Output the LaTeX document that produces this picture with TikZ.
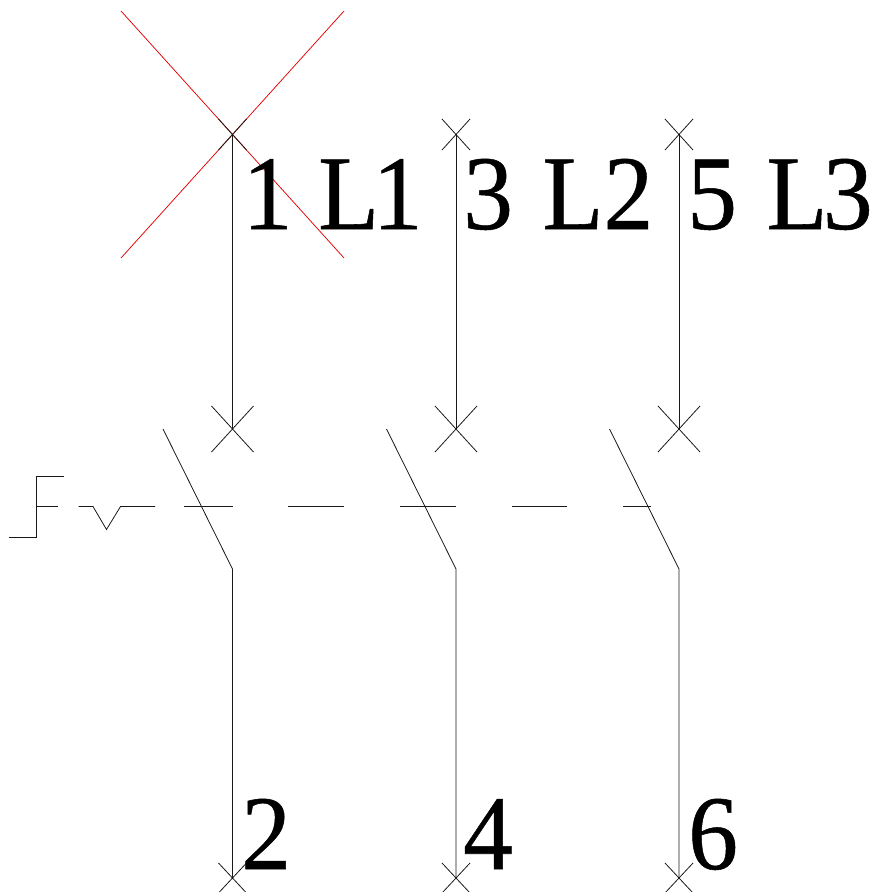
\documentclass[tikz,border=0pt]{standalone}
\usepackage{fontspec}
\setmainfont[FakeBold=0.5,AutoFakeBold=0.5]{Liberation Serif}
\newcommand{\lbl}[1]{\scalebox{.94}[1]{\bfseries #1}}
\tikzset{
  wire/.style={line width=0.8pt,black!90},
  redline/.style={line width=0.75pt,red!90!black},
  lab/.style={inner sep=0pt,font=\fontsize{106}{106}\selectfont,anchor=base west},
}
\begin{document}
\begin{tikzpicture}[x=1pt,y=-1pt]
\useasboundingbox (0,0) rectangle (879,892);
\draw[redline] (121,11) -- (344,258) (344,11) -- (121,258);
\foreach \x/\n in {232.5/a,456/b,679/c}{
  \coordinate (top\n) at (\x,134.5);
  \coordinate (bot\n) at (\x,429);
  \coordinate (knee\n) at (\x,569);
  \coordinate (end\n) at (\x,878);
  \draw[wire] (top\n) -- (bot\n);
  \draw[wire] (\x-21,406) -- (\x+21,452) (\x+21,406) -- (\x-21,452);
  \draw[wire] (\x-69.5,429) -- (knee\n) -- (end\n);
  \draw[wire] (\x-14,863) -- (\x+14,893) (\x+14,863) -- (\x-14,893);
  \draw[wire] (\x-14,119) -- (\x+14,150) (\x+14,119) -- (\x-14,150);
}
\draw[wire] (9,537) -- (36.5,537) -- (36.5,476) -- (64,476);
\draw[wire] (36.5,506.5) -- (58,506.5);
\draw[wire] (78.5,506.5) -- (93,506.5) -- (106.5,529.5) -- (120.5,506.5) -- (155,506.5);
\draw[wire] (183.5,506.5) -- (232.5,506.5) (288,506.5) -- (344,506.5) (400,506.5) -- (456,506.5) (512,506.5) -- (567,506.5) (623,506.5) -- (651,506.5);
\node[lab] (t1) at (242.5,229) {\lbl{1\kern1pt\ L\kern-7pt 1}};
\node[lab] (t3) at (463,229) {\lbl{3\kern5pt\ L2}};
\node[lab] (t5) at (687,229) {\lbl{5\kern5pt\ L\kern-5pt 3}};
\node[lab] (t2) at (241,869) {\lbl{2}};
\node[lab] (t4) at (463,869) {\lbl{4}};
\node[lab] (t6) at (688,869) {\lbl{6}};
\end{tikzpicture}
\end{document}
